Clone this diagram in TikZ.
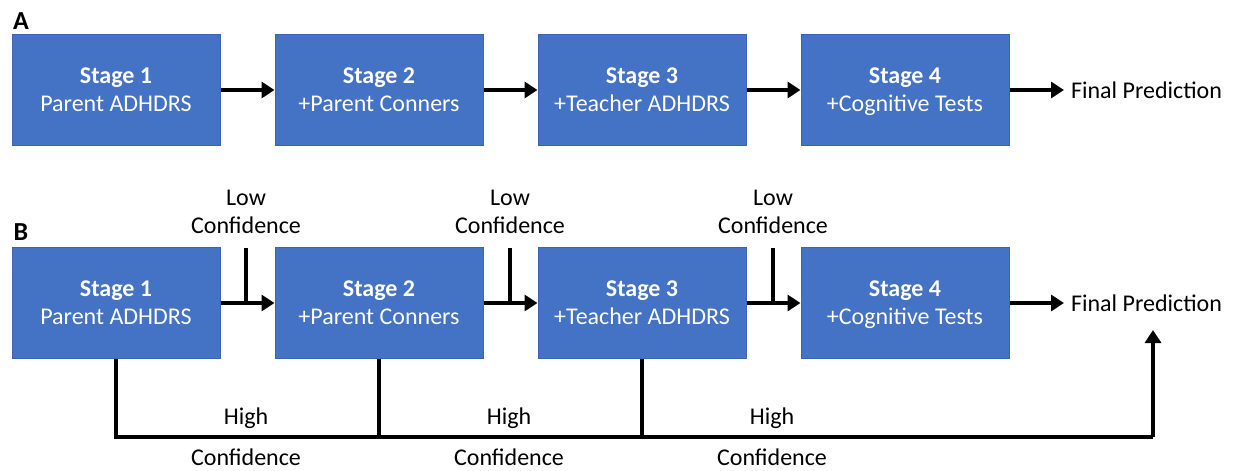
\documentclass[tikz,border=0pt]{standalone}
\usepackage{fontspec}
\setmainfont{Carlito}
\usetikzlibrary{arrows.meta,positioning,calc}
\definecolor{stageblue}{HTML}{4472C4}
\definecolor{stageedge}{HTML}{3B65B3}

\begin{document}
\begin{tikzpicture}[x=0.5pt, y=-0.5pt,
    stage/.style={rectangle, draw=stageedge, fill=stageblue, line width=0.5pt, minimum width=104pt, minimum height=55.5pt, inner sep=0pt, text depth=0pt, align=center, text=white, font=\fontsize{12}{14}\selectfont},
    note/.style={align=center, font=\fontsize{12}{14}\selectfont},
    panel/.style={font=\fontsize{13}{15}\selectfont\bfseries},
    arrow/.style={-{Triangle[length=6.5pt, width=8pt]}, line width=2pt},
    wire/.style={line width=2pt}
]
    \useasboundingbox (0,0) rectangle (1237,471);

    % Panel A
    \node[panel] (pa) at (21,21) {A};
    \node[stage] (s1a) at (116,90) {\textbf{Stage 1}\\Parent ADHDRS};
    \node[stage] (s2a) at (379,90) {\textbf{Stage 2}\\+Parent Conners};
    \node[stage] (s3a) at (642,90) {\textbf{Stage 3}\\+Teacher ADHDRS};
    \node[stage] (s4a) at (905,90) {\textbf{Stage 4}\\+Cognitive Tests};
    \node[note, anchor=west] (fina) at (1064,90) {Final Prediction};

    \draw[arrow] (s1a) -- (s2a);
    \draw[arrow] (s2a) -- (s3a);
    \draw[arrow] (s3a) -- (s4a);
    \draw[arrow] (s4a) -- (fina);

    % Panel B
    \node[panel] (pb) at (21,232) {B};
    \node[stage] (s1b) at (116,303) {\textbf{Stage 1}\\Parent ADHDRS};
    \node[stage] (s2b) at (379,303) {\textbf{Stage 2}\\+Parent Conners};
    \node[stage] (s3b) at (642,303) {\textbf{Stage 3}\\+Teacher ADHDRS};
    \node[stage] (s4b) at (905,303) {\textbf{Stage 4}\\+Cognitive Tests};
    \node[note, anchor=west] (finb) at (1064,303) {Final Prediction};

    \draw[arrow] (s1b) -- (s2b);
    \draw[arrow] (s2b) -- (s3b);
    \draw[arrow] (s3b) -- (s4b);
    \draw[arrow] (s4b) -- (finb);

    % Low confidence
    \node[note] (lo1) at (246,212) {Low\\Confidence};
    \node[note] (lo2) at (510,212) {Low\\Confidence};
    \node[note] (lo3) at (773,212) {Low\\Confidence};
    \coordinate (lt1) at (246,248);
    \coordinate (lt2) at (510,248);
    \coordinate (lt3) at (773,248);
    \draw[wire] (lt1) -- (lt1 |- s1b.east);
    \draw[wire] (lt2) -- (lt2 |- s2b.east);
    \draw[wire] (lt3) -- (lt3 |- s3b.east);

    % High confidence
    \coordinate (hend) at (1153,437);
    \coordinate (htip) at (1153,330);
    \draw[wire] (s1b.south) |- (hend);
    \draw[arrow] (hend) -- (htip);
    \draw[wire] (s2b.south) -- (s2b.south |- hend);
    \draw[wire] (s3b.south) -- (s3b.south |- hend);
    \node[note, font=\fontsize{12}{20.5}\selectfont] (hi1) at (246,437) {High\\Confidence};
    \node[note, font=\fontsize{12}{20.5}\selectfont] (hi2) at (509,437) {High\\Confidence};
    \node[note, font=\fontsize{12}{20.5}\selectfont] (hi3) at (772,437) {High\\Confidence};

\end{tikzpicture}
\end{document}
